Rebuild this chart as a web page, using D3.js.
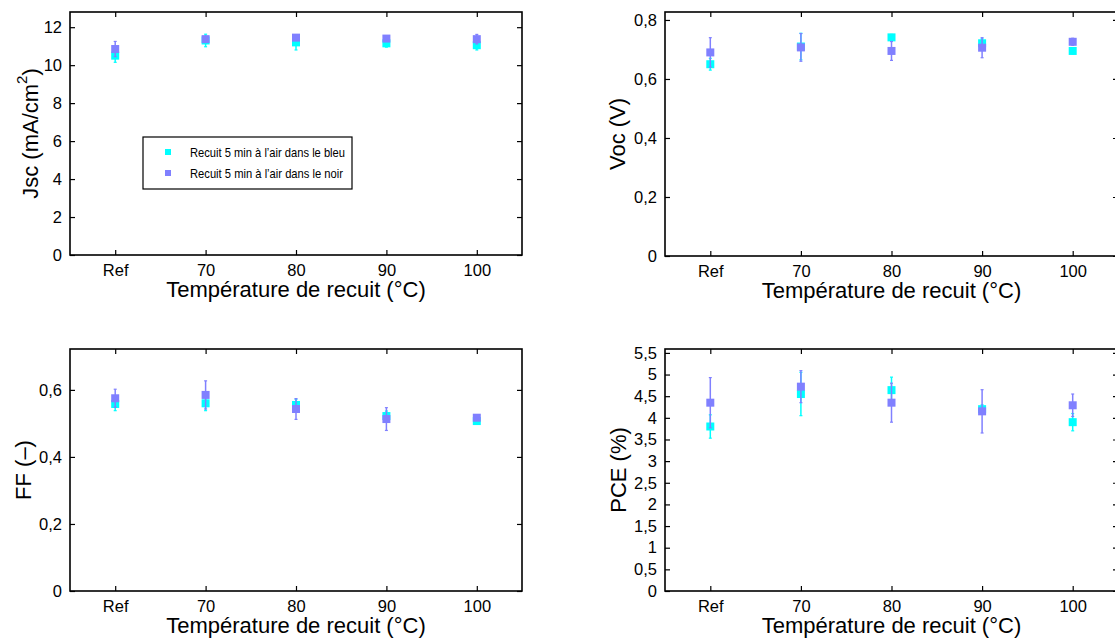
<!DOCTYPE html>
<html>
<head>
<meta charset="utf-8">
<script src="https://cdn.jsdelivr.net/npm/d3@7"></script>
<style>
  html, body { margin: 0; padding: 0; background: #fff; }
  svg { display: block; font-family: "Liberation Sans", Arial, sans-serif; }
</style>
</head>
<body>
<svg id="chart" width="1115" height="639"></svg>
<script>
// ---- data ----
const categories = ["Ref", "70", "80", "90", "100"];
const seriesNames = ["Recuit 5 min à l\u2019air dans le bleu", "Recuit 5 min à l\u2019air dans le noir"];
const seriesColors = ["#00FFFF", "#8080FF"];

const jscBleu = [10.5, 11.3, 11.2, 11.15, 11.05];
const jscBleuErr = [0.35, 0.33, 0.4, 0.2, 0.25];
const jscNoir = [10.85, 11.37, 11.45, 11.4, 11.37];
const jscNoirErr = [0.4, 0.15, 0.15, 0.15, 0.25];

const vocBleu = [0.65, 0.71, 0.741, 0.721, 0.695];
const vocBleuErr = [0.02, 0.045, 0.01, 0.015, 0.01];
const vocNoir = [0.69, 0.707, 0.695, 0.706, 0.726];
const vocNoirErr = [0.05, 0.047, 0.032, 0.034, 0.012];

const ffBleu = [0.558, 0.56, 0.555, 0.522, 0.507];
const ffBleuErr = [0.02, 0.022, 0.017, 0.015, 0.008];
const ffNoir = [0.575, 0.585, 0.543, 0.513, 0.517];
const ffNoirErr = [0.027, 0.042, 0.031, 0.034, 0.008];

const pceBleu = [3.8, 4.55, 4.64, 4.2, 3.9];
const pceBleuErr = [0.27, 0.5, 0.3, 0.1, 0.2];
const pceNoir = [4.35, 4.72, 4.35, 4.15, 4.29];
const pceNoirErr = [0.58, 0.37, 0.45, 0.5, 0.26];

const jscTicks = [0, 2, 4, 6, 8, 10, 12];
const vocTicks = [0, 0.2, 0.4, 0.6, 0.8];
const ffTicks = [0, 0.2, 0.4, 0.6];
const pceTicks = [0, 0.5, 1, 1.5, 2, 2.5, 3, 3.5, 4, 4.5, 5, 5.5];

const xTitle = "Température de recuit (°C)";

// ---- layout ----
const panels = [
  { box: [70, 522, 12, 255], ymax: 12.8, ticks: jscTicks, series: [[jscBleu, jscBleuErr], [jscNoir, jscNoirErr]], label: "jsc", labelX: 32 },
  { box: [665, 1118, 12, 256], ymax: 0.827, ticks: vocTicks, series: [[vocBleu, vocBleuErr], [vocNoir, vocNoirErr]], label: "Voc (V)", labelX: 619 },
  { box: [70, 522, 349, 591], ymax: 0.722, ticks: ffTicks, series: [[ffBleu, ffBleuErr], [ffNoir, ffNoirErr]], label: "FF (\u2013)", labelX: 25 },
  { box: [665, 1118, 349, 591], ymax: 5.59, ticks: pceTicks, series: [[pceBleu, pceBleuErr], [pceNoir, pceNoirErr]], label: "PCE (%)", labelX: 620 }
];

const svg = d3.select("#chart");
const fmt = v => String(+v.toFixed(2)).replace(".", ",");
const FONT = "'Liberation Sans', Arial, sans-serif";

panels.forEach(p => {
  const [l, r, t, b] = p.box;
  const x = d3.scalePoint().domain(categories).range([l, r]).padding(0.5);
  const y = d3.scaleLinear().domain([0, p.ymax]).range([b, t]);
  const g = svg.append("g");

  // frame
  g.append("rect").attr("x", l).attr("y", t).attr("width", r - l).attr("height", b - t)
    .attr("fill", "none").attr("stroke", "#000").attr("stroke-width", 1.6);

  // axes
  const axB = g.append("g").attr("transform", `translate(0,${b})`)
    .call(d3.axisBottom(x).tickSizeInner(-5).tickSizeOuter(0).tickPadding(9));
  const axT = g.append("g").attr("transform", `translate(0,${t})`)
    .call(d3.axisTop(x).tickSizeInner(-5).tickSizeOuter(0).tickFormat(""));
  const axL = g.append("g").attr("transform", `translate(${l},0)`)
    .call(d3.axisLeft(y).tickValues(p.ticks).tickFormat(fmt).tickSizeInner(-5).tickSizeOuter(0).tickPadding(8));
  const axR = g.append("g").attr("transform", `translate(${r},0)`)
    .call(d3.axisRight(y).tickValues(p.ticks).tickFormat("").tickSizeInner(-5).tickSizeOuter(0));
  [axB, axT, axL, axR].forEach(a => {
    a.attr("font-family", null).attr("font-size", null);
    a.select(".domain").remove();
    a.selectAll(".tick line").attr("stroke", "#000").attr("stroke-width", 1.2);
    a.selectAll("text").attr("fill", "#000")
      .style("font-size", "16.5px").style("font-family", FONT);
  });

  // x title
  g.append("text").attr("x", (l + r) / 2).attr("y", b + 42)
    .attr("text-anchor", "middle").style("font-size", "22px").style("font-family", FONT).text(xTitle);

  // y title
  const yl = g.append("text").attr("transform", `translate(${p.labelX},${(t + b) / 2}) rotate(-90)`)
    .attr("text-anchor", "middle").attr("dominant-baseline", "middle")
    .style("font-size", "22px").style("font-family", FONT);
  if (p.label === "jsc") {
    yl.append("tspan").text("Jsc (mA/cm");
    yl.append("tspan").style("font-size", "15px").attr("dy", -9).text("2");
    yl.append("tspan").attr("dy", 9).text(")");
  } else {
    yl.text(p.label);
  }

  // data series
  p.series.forEach(([vals, errs], si) => {
    const c = seriesColors[si];
    const sg = g.append("g");
    vals.forEach((v, i) => {
      const cx = x(categories[i]);
      sg.append("line").attr("x1", cx).attr("x2", cx)
        .attr("y1", y(v - errs[i])).attr("y2", y(v + errs[i]))
        .attr("stroke", c).attr("stroke-width", 1.5);
      [v - errs[i], v + errs[i]].forEach(e => {
        sg.append("line").attr("x1", cx - 1.5).attr("x2", cx + 1.5)
          .attr("y1", y(e)).attr("y2", y(e)).attr("stroke", c).attr("stroke-width", 1.2);
      });
      sg.append("rect").attr("x", cx - 4).attr("y", y(v) - 4)
        .attr("width", 8).attr("height", 8).attr("fill", c);
    });
  });
});

// legend (first panel)
const lg = svg.append("g");
lg.append("rect").attr("x", 143).attr("y", 137).attr("width", 209).attr("height", 52)
  .attr("fill", "#fff").attr("stroke", "#000").attr("stroke-width", 1.2);
seriesNames.forEach((n, i) => {
  const yy = 152 + i * 21;
  lg.append("rect").attr("x", 165).attr("y", yy - 3).attr("width", 6).attr("height", 6)
    .attr("fill", seriesColors[i]);
  lg.append("text").attr("x", 190).attr("y", yy + 4.5)
    .attr("textLength", i === 0 ? 155 : 153).attr("lengthAdjust", "spacingAndGlyphs")
    .style("font-size", "13px").style("font-family", FONT).text(n);
});
</script>
</body>
</html>
